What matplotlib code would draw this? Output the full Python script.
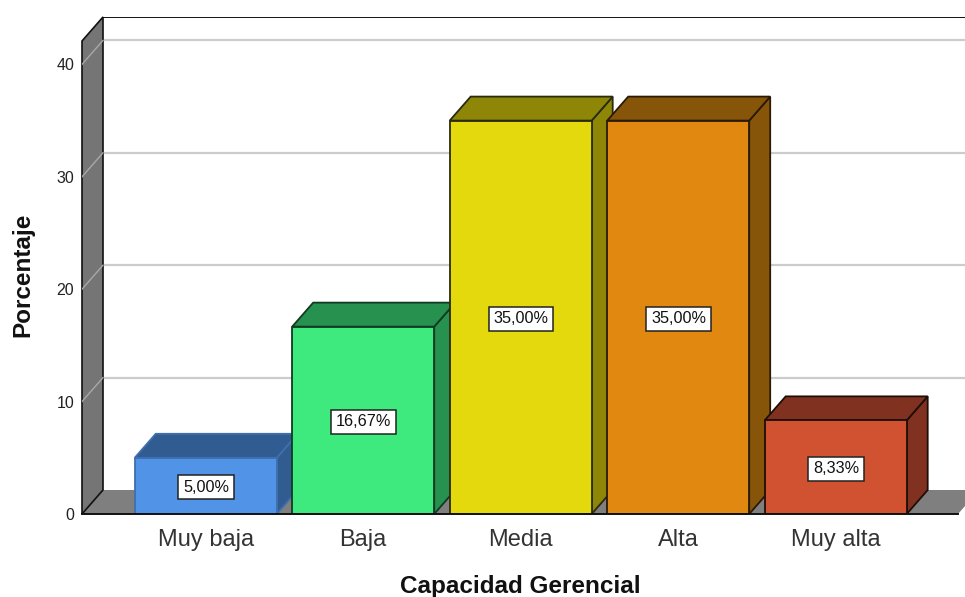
import matplotlib
matplotlib.use("Agg")
import matplotlib.pyplot as plt
from matplotlib.patches import Polygon

plt.rcParams['font.family'] = ['Liberation Sans', 'DejaVu Sans']

categories = ["Muy baja", "Baja", "Media", "Alta", "Muy alta"]
values = [5.00, 16.67, 35.00, 35.00, 8.33]
labels = ["5,00%", "16,67%", "35,00%", "35,00%", "8,33%"]
front_colors = ["#5193E6", "#3EEA7D", "#E4D90C", "#E0880F", "#D15231"]
side_colors = ["#315C91", "#279150", "#8E8607", "#86550A", "#813120"]
edge_colors = ["#3F6FAE", "#123A22", "#2A2A10", "#2A1A05", "#1E0E08"]
y_ticks = [0, 10, 20, 30, 40]

W, H = 965, 597
fig = plt.figure(figsize=(W / 100, H / 100), dpi=100)
L, R, B, T = 82, 965, 514, 17
ax = fig.add_axes([L / W, 1 - B / H, (R - L) / W, (B - T) / H])
PX_X, PX_Y = 157.5, 11.24
C0 = 205.7
ax.set_xlim((L - C0) / PX_X, (R - C0) / PX_X)
ax.set_ylim(0, (B - T) / PX_Y)
DX, DY = 21 / PX_X, 24 / PX_Y
X0 = ax.get_xlim()[0]
XE = (958 - C0) / PX_X
YTOP = (B - 41) / PX_Y
BW = 142 / PX_X

for s in ax.spines.values():
    s.set_visible(False)
ax.patch.set_visible(False)


def poly(pts, fc, ec="none", lw=0, z=1, clip=True):
    p = Polygon(pts, closed=True, facecolor=fc, edgecolor=ec, linewidth=lw,
                zorder=z, joinstyle='miter', clip_on=clip)
    ax.add_patch(p)


# back gridlines
for t in y_ticks[1:]:
    ax.plot([X0 + DX, XE + DX], [t + DY, t + DY], color="#CCCCCC", lw=1.6, zorder=1)
# floor
poly([(X0, 0), (XE, 0), (XE + DX, DY), (X0 + DX, DY)], "#7F7F7F", z=1.2)
# left wall
poly([(X0, 0), (X0 + DX, DY), (X0 + DX, YTOP + DY), (X0, YTOP)], "#757575", "#111111", 1.2, z=1.3, clip=False)
for t in y_ticks[1:]:
    ax.plot([X0, X0 + DX], [t, t + DY], color="#A8A8A8", lw=1.0, zorder=1.4)
# top back line
ax.plot([X0 + DX, XE + DX], [YTOP + DY, YTOP + DY], color="#111111", lw=1.4, zorder=1.5)
# bars
for i, v in enumerate(values):
    x0, x1 = i - BW / 2, i + BW / 2
    z = 2 + i * 0.1
    ec, lw = edge_colors[i], 1.3
    poly([(x1, 0), (x1 + DX, DY), (x1 + DX, v + DY), (x1, v)], side_colors[i], ec, lw, z)
    poly([(x0, v), (x1, v), (x1 + DX, v + DY), (x0 + DX, v + DY)], side_colors[i], ec, lw, z)
    poly([(x0, 0), (x1, 0), (x1, v), (x0, v)], front_colors[i], ec, lw, z + 0.01)
    ax.annotate(labels[i], xy=(i, v / 2), xytext=(0.2, -1.0), textcoords='offset points',
                ha='center', va='center', fontsize=11.7, color="#111111", zorder=5,
                bbox=dict(boxstyle='square,pad=0.28', facecolor='white',
                          edgecolor='#222222', linewidth=1.1))
# baseline
ax.plot([X0, XE], [0, 0], color="#111111", lw=1.4, zorder=4, clip_on=False)

ax.set_xticks(range(len(categories)))
ax.set_xticklabels(categories, fontsize=17, color="#333333", va='baseline')
ax.set_yticks(y_ticks)
ax.set_yticklabels([str(t) for t in y_ticks], fontsize=11.5, color="#222222")
ax.tick_params(axis='both', length=0)
ax.tick_params(axis='x', pad=23)
ax.tick_params(axis='y', pad=5.5)
ax.set_xlabel("Capacidad Gerencial", fontsize=17.5, fontweight='bold', color="#111111")
ax.xaxis.set_label_coords((520.5 - L) / (R - L), -(587 - B) / (B - T), transform=ax.transAxes)
ax.xaxis.label.set_va('center')
ax.set_ylabel("Porcentaje", fontsize=17.5, fontweight='bold', color="#111111")
ax.yaxis.set_label_coords((23 - L) / (R - L), (B - 275) / (B - T), transform=ax.transAxes)
ax.yaxis.label.set_va('center')

fig.savefig("out.png", dpi=100, facecolor="white")
